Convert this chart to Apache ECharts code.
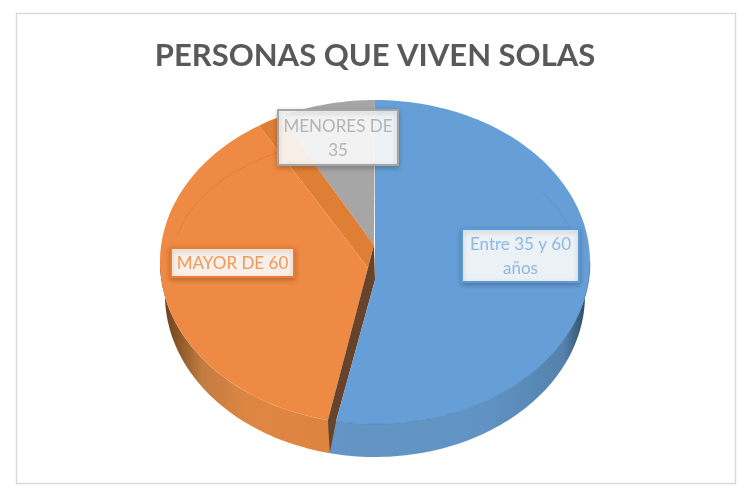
<!DOCTYPE html>
<html><head><meta charset="utf-8">
<style>html,body{margin:0;padding:0;background:#fff}#c{width:750px;height:488px}</style>
<script src="https://cdn.jsdelivr.net/npm/echarts@6/dist/echarts.min.js"></script></head>
<body><div id="c"></div>
<script>
// Data
const categories = ['Entre 35 y 60 años', 'MAYOR DE 60', 'MENORES DE 35'];
const labelLines = ['Entre 35 y 60\naños', 'MAYOR DE 60', 'MENORES DE\n35'];
const values = [52.9, 39.8, 7.3];

// Layout and styling
const C = {x: 375, y: 262, rx: 215, ry: 162, depth: 33, brx: 210};
const topColors = ['#669FD7', '#EE8A43', '#A6A6A6'];
const labelBoxes = [[462, 229, 117, 53], [171, 248, 123, 29], [278, 110, 120, 55]];
const labelText = ['#8DB9E3', '#F0995C', '#B4B4B4'];
const labelStroke = ['#5B9BD5', '#ED7D31', '#A5A5A5'];

const total = values.reduce((a, b) => a + b, 0);
const th1 = values[0] / total * 360;
const th2 = (values[0] + values[1]) / total * 360;
const rim = (deg, rx = C.rx, ry = C.ry, dy = 0) => {
  const t = deg * Math.PI / 180;
  return [C.x + rx * Math.sin(t), C.y + dy - ry * Math.cos(t)];
};
const arc = (a, b, f) => {
  const n = Math.max(2, Math.ceil(Math.abs(b - a) / 1.5));
  const out = [];
  for (let i = 0; i <= n; i++) out.push(f(a + (b - a) * i / n));
  return out;
};
const topRim = d => rim(d);
const bottomRim = d => rim(d, C.brx, C.ry, C.depth);
const wall = (a, b) => arc(a, b, topRim).concat(arc(b, a, bottomRim));
const poly = (points, fill, extra) => Object.assign(
  {type: 'polygon', shape: {points}, style: {fill}}, extra || {});
const line = (points, stroke) => (
  {type: 'polyline', shape: {points}, style: {fill: 'none', stroke, lineWidth: 1}});
const lg = stops => ({type: 'linear', x: 0, y: 0, x2: 1, y2: 0,
  colorStops: stops.map(s => ({offset: s[0], color: s[1]}))});

// Offset points where the cut faces of the slices meet the centre
const apexCut = [374, 245], apexOrange = [368, 268], apexBlue = [375, 280];
const bevelEnd = th2 - 6.4, cutGap = 2.2;

function renderSlice(params, api) {
  const idx = api.value(0);
  const ch = [];
  if (idx === 2) {
    ch.push(poly([apexCut].concat(arc(th2, 360, topRim)), topColors[2]));
  } else if (idx === 1) {
    ch.push(poly(wall(th1 + 2, 270), lg([[0, '#4f3116'], [0.05, '#75481f'], [0.25, '#C27C40'], [0.5, '#DD8643'], [1, '#DF843F']])));
    ch.push(poly([apexCut].concat(arc(th2, bevelEnd, topRim), [apexOrange]), '#DF7F35'));
    ch.push(poly([apexOrange].concat(arc(th1 + cutGap, bevelEnd, topRim)), topColors[1]));
    ch.push(line(arc(282, bevelEnd + 4, d => rim(d, 202, 125)), 'rgba(214,110,40,0.45)'));
  } else {
    ch.push(poly(wall(90, th1 + 2), lg([[0, '#6495C4'], [0.6, '#6093C3'], [0.9, '#5482AD'], [0.97, '#37556F'], [1, '#1F3244']])));
    ch.push(poly([apexCut, rim(th1 + cutGap), bottomRim(th1 + 2), rim(th1), apexBlue], '#66432A'));
    ch.push(poly([apexBlue].concat(arc(0, th1, topRim)), topColors[0]));
    ch.push(line(arc(56, 80, d => rim(d, 202, 125)), 'rgba(90,145,205,0.7)'));
    ch.push(line(arc(90, th1, topRim), 'rgba(72,125,180,0.55)'));
  }
  return {type: 'group', children: ch};
}

function renderLabel(params, api) {
  const i = api.value(0);
  const [x, y, w, h] = labelBoxes[i];
  return {type: 'group', children: [
    {type: 'rect', shape: {x, y, width: w, height: h}, style: {
      fill: 'rgba(255,255,255,0.89)', stroke: labelStroke[i], lineWidth: 2,
      shadowBlur: 5, shadowColor: 'rgba(0,0,0,0.22)', shadowOffsetY: 2}},
    {type: 'text', style: {
      x: x + w / 2, y: y + h / 2 + 1, text: labelLines[i], align: 'center', verticalAlign: 'middle',
      fontFamily: 'Lato', fontSize: 17, lineHeight: 24, fill: labelText[i]}}
  ]};
}

const chart = echarts.init(document.getElementById('c'), null, {renderer: 'canvas'});
chart.setOption({
  animation: false,
  backgroundColor: '#fff',
  title: {text: 'PERSONAS QUE VIVEN SOLAS', left: 370, top: 35, textAlign: 'center',
    textStyle: {fontFamily: 'Lato', fontWeight: 'bold', fontSize: 31, color: '#595959'}},
  graphic: [{type: 'rect', z: -1, shape: {x: 16.5, y: 13.5, width: 719, height: 470},
    style: {fill: '#fff', stroke: '#D9D9D9', lineWidth: 1.5}}],
  tooltip: {show: false},
  series: [
    {type: 'custom', coordinateSystem: 'none', z: 2, silent: true, renderItem: renderSlice,
      data: [2, 1, 0].map(i => ({name: categories[i], value: [i, values[i]]}))},
    {type: 'custom', coordinateSystem: 'none', z: 3, silent: true, renderItem: renderLabel,
      data: [0, 1, 2].map(i => ({name: categories[i], value: [i, values[i]]}))}
  ]
});
</script></body></html>
